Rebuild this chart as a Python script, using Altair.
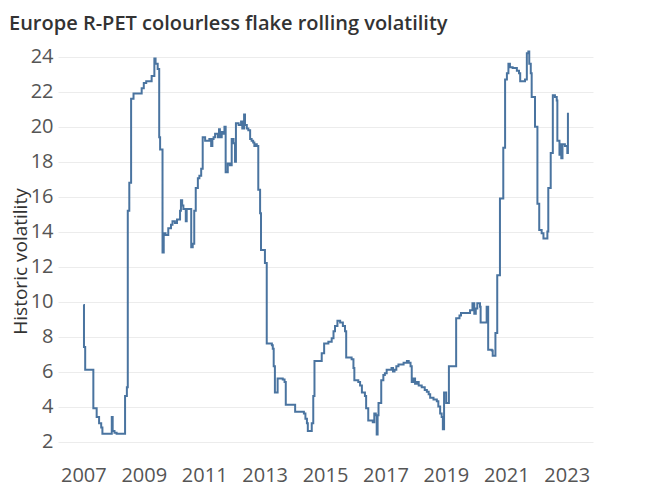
import altair as alt
import pandas as pd

years = [
    2007.00, 2007.02, 2007.06, 2007.33, 2007.44, 2007.52, 2007.59, 2007.63, 2007.94, 2007.97,
    2008.03, 2008.10, 2008.38, 2008.44, 2008.47, 2008.52, 2008.58, 2008.66, 2008.93, 2009.00,
    2009.08, 2009.26, 2009.35, 2009.39, 2009.46, 2009.51, 2009.54, 2009.62, 2009.66, 2009.72,
    2009.81, 2009.90, 2009.95, 2010.03, 2010.10, 2010.20, 2010.23, 2010.27, 2010.31, 2010.39,
    2010.42, 2010.50, 2010.57, 2010.62, 2010.67, 2010.72, 2010.79, 2010.84, 2010.90, 2010.95,
    2011.03, 2011.12, 2011.17, 2011.23, 2011.27, 2011.31, 2011.36, 2011.45, 2011.49, 2011.52,
    2011.58, 2011.63, 2011.67, 2011.71, 2011.78, 2011.85, 2011.91, 2011.97, 2012.02, 2012.05,
    2012.14, 2012.22, 2012.26, 2012.32, 2012.35, 2012.41, 2012.46, 2012.52, 2012.57, 2012.62,
    2012.66, 2012.70, 2012.74, 2012.79, 2012.85, 2012.88, 2013.01, 2013.07, 2013.24, 2013.27,
    2013.30, 2013.34, 2013.43, 2013.60, 2013.66, 2013.70, 2014.01, 2014.30, 2014.35, 2014.40,
    2014.43, 2014.56, 2014.61, 2014.65, 2014.89, 2014.97, 2015.11, 2015.22, 2015.28, 2015.33,
    2015.41, 2015.50, 2015.59, 2015.66, 2015.70, 2015.88, 2015.94, 2015.97, 2016.10, 2016.16,
    2016.22, 2016.32, 2016.36, 2016.43, 2016.58, 2016.63, 2016.68, 2016.71, 2016.74, 2016.77,
    2016.86, 2016.93, 2016.98, 2017.04, 2017.13, 2017.20, 2017.25, 2017.30, 2017.36, 2017.43,
    2017.60, 2017.71, 2017.77, 2017.83, 2017.87, 2017.93, 2017.98, 2018.04, 2018.10, 2018.20,
    2018.30, 2018.37, 2018.43, 2018.48, 2018.59, 2018.70, 2018.75, 2018.81, 2018.86, 2018.90,
    2018.94, 2019.01, 2019.10, 2019.34, 2019.45, 2019.50, 2019.80, 2019.88, 2019.94, 2019.99,
    2020.04, 2020.13, 2020.15, 2020.35, 2020.40, 2020.52, 2020.55, 2020.64, 2020.70, 2020.79,
    2020.90, 2020.96, 2021.02, 2021.07, 2021.12, 2021.21, 2021.35, 2021.42, 2021.46, 2021.62,
    2021.68, 2021.73, 2021.76, 2021.81, 2021.84, 2021.95, 2022.03, 2022.09, 2022.17, 2022.23,
    2022.36, 2022.39, 2022.47, 2022.54, 2022.61, 2022.67, 2022.69, 2022.76, 2022.79, 2022.82,
    2022.86, 2022.94, 2023.02, 2023.04,
]
volatility = [
    9.8, 7.4, 6.1, 3.9, 3.4, 3.05, 2.8, 2.45, 3.4, 2.6,
    2.5, 2.45, 4.6, 5.1, 15.2, 16.8, 21.6, 21.9, 22.2, 22.5,
    22.6, 22.9, 23.9, 23.6, 23.3, 19.4, 18.7, 12.8, 13.9, 13.8,
    14.2, 14.4, 14.6, 14.5, 14.7, 15.2, 15.8, 15.5, 15.3, 14.6,
    15.3, 15.3, 13.1, 13.3, 15.2, 16.5, 17.05, 17.2, 17.6, 19.4,
    19.2, 19.2, 19.3, 18.9, 19.3, 19.4, 19.6, 19.4, 19.85, 19.4,
    19.7, 19.6, 20.0, 17.4, 17.9, 17.8, 19.3, 19.05, 18.0, 20.2,
    20.1, 20.3, 19.9, 20.7, 20.1, 19.9, 19.8, 19.3, 19.2, 19.1,
    18.9, 19.0, 18.9, 16.4, 15.05, 12.95, 12.2, 7.6, 7.5, 7.3,
    6.3, 4.8, 5.6, 5.55, 5.4, 4.1, 3.7, 3.6, 3.3, 3.05,
    2.6, 3.05, 4.6, 6.6, 7.05, 7.6, 7.7, 7.9, 8.3, 8.6,
    8.9, 8.8, 8.6, 8.3, 6.8, 6.7, 6.2, 5.5, 5.4, 5.2,
    4.8, 4.6, 3.9, 3.2, 3.1, 3.6, 3.5, 2.4, 3.5, 4.2,
    5.5, 5.8, 5.9, 6.1, 6.1, 6.2, 6.0, 6.1, 6.3, 6.4,
    6.5, 6.6, 6.5, 6.3, 5.4, 5.6, 5.3, 5.4, 5.2, 5.1,
    4.95, 4.85, 4.7, 4.5, 4.4, 4.3, 4.0, 3.6, 3.4, 2.7,
    4.8, 4.2, 6.3, 9.05, 9.2, 9.35, 9.5, 9.9, 9.3, 9.6,
    9.9, 9.7, 8.8, 9.7, 7.25, 7.2, 6.9, 8.2, 11.5, 15.9,
    18.8, 22.7, 23.05, 23.6, 23.4, 23.35, 23.2, 23.05, 22.6, 22.7,
    24.2, 24.3, 23.6, 23.05, 21.7, 20.0, 15.6, 14.1, 13.9, 13.6,
    14.0, 16.5, 18.5, 21.8, 21.7, 21.5, 19.2, 18.4, 19.0, 18.2,
    19.0, 18.9, 18.5, 20.8,
]
x_ticks = [2007, 2009, 2011, 2013, 2015, 2017, 2019, 2021, 2023]
y_ticks = [2, 4, 6, 8, 10, 12, 14, 16, 18, 20, 22, 24]
title_text = ["Europe R-PET colourless flake rolling volatility"]

df = pd.DataFrame({"year": years, "vol": volatility})
df_title = pd.DataFrame({"t": title_text})

FONT = "Open Sans"

line = alt.Chart(df).mark_line(
    interpolate="step-after", color="#4a74a0", strokeWidth=2
).encode(
    x=alt.X(
        "year:Q",
        scale=alt.Scale(domain=[2006.16, 2023.87], nice=False, zero=False),
        axis=alt.Axis(
            values=x_ticks, format="d", grid=False, domain=False, ticks=False,
            labelPadding=6, title=None, labelFontSize=20, labelColor="#555555",
            labelFont=FONT,
        ),
    ),
    y=alt.Y(
        "vol:Q",
        scale=alt.Scale(domain=[1.0, 24.67], nice=False, zero=False),
        axis=alt.Axis(
            values=y_ticks, grid=True, gridColor="#ececec", gridWidth=1,
            domain=False, ticks=False, labelPadding=5,
            title="Historic volatility", titleX=-38, titleY=216, titleAngle=-90,
            titleAlign="center", titleBaseline="middle", titleFontSize=19,
            titleFontWeight="normal", titleColor="#333333", titleFont=FONT,
            labelFontSize=20, labelColor="#555555", labelFont=FONT,
        ),
    ),
)

title = alt.Chart(df_title).mark_text(
    align="left", baseline="alphabetic", fontSize=20, fontWeight=600,
    font=FONT, color="#333333",
).encode(
    text="t:N",
    x=alt.value(-49),
    y=alt.value(-15),
)

chart = alt.layer(line, title).properties(
    width=535,
    height=414,
    padding={"left": 50, "top": 37, "right": 59, "bottom": 28},
    autosize=alt.AutoSizeParams(type="none"),
).configure_view(stroke=None)

chart.save("out.html", embed_options={"renderer": "svg", "actions": False})
